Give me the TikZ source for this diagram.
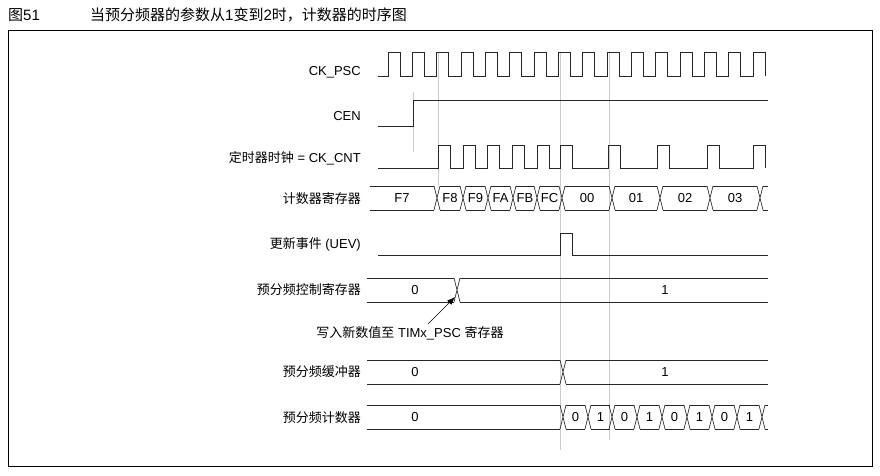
\documentclass[tikz,border=0pt]{standalone}
\usepackage{fontspec}
\usetikzlibrary{arrows.meta}
\setmainfont{Liberation Sans}
\newfontfamily\cjk{Noto Sans CJK SC}
\tikzset{lab/.style={anchor=east,inner sep=0pt,font=\fontsize{13}{15}\selectfont},
 val/.style={inner sep=0pt,font=\fontsize{13}{15}\selectfont},
 sig/.style={line width=0.7pt,black!85},
 guide/.style={gray!40,line width=0.5pt}}
\newcommand\busseg[5]{\draw[sig] (#1,#3)--(#2,#3) (#1,#4)--(#2,#4); \node[val] at ({(#1+#2)/2},{(#3+#4)/2}) {#5};}
\newcommand\buslines[4]{\draw[sig] (#1,#3)--(#2,#3) (#1,#4)--(#2,#4);}
\newcommand\busx[3]{\draw[sig] ({#1-3},#2)--({#1+3},#3) ({#1-3},#3)--({#1+3},#2);}
\begin{document}
\begin{tikzpicture}[x=1pt,y=-1pt]
\useasboundingbox (0,0) rectangle (880,476);
\draw[line width=0.6pt] (8,30) rectangle (872,466);
\node[anchor=west,inner sep=0pt,font=\fontsize{15}{17}\selectfont] (ttl) at (8,15) {\cjk 图\rmfamily 51};
\node[anchor=west,inner sep=0pt,font=\fontsize{15}{17}\selectfont] (ttl2) at (90,15) {\cjk 当预分频器的参数从\rmfamily 1\cjk 变到\rmfamily 2\cjk 时，计数器的时序图};
% guides
\draw[guide] (413,92)--(413,152);
\draw[guide] (438,52)--(438,186);
\draw[guide] (560,52)--(560,450);
\draw[guide] (609,52)--(609,440);
% labels
\node[lab] (l1) at (361,72) {CK\_PSC};
\node[lab] (l2) at (361,116) {CEN};
\node[lab] (l3) at (361,158) {\cjk 定时器时钟\rmfamily\ = CK\_CNT};
\node[lab] (l4) at (361,199) {\cjk 计数器寄存器};
\node[lab] (l5) at (361,244) {\cjk 更新事件\rmfamily\ (UEV)};
\node[lab] (l6) at (361,290) {\cjk 预分频控制寄存器};
\node[lab] (l7) at (361,372) {\cjk 预分频缓冲器};
\node[lab] (l8) at (361,418) {\cjk 预分频计数器};
% CK_PSC
\draw[sig] (378,76) \foreach \k in {0,...,15}{ -- ({388+\k*24.33},76) -- ++(0,-24) -- ++(12,0) -- ++(0,24)};
% CEN
\draw[sig] (378,126)--(413,126)--(413,100)--(768,100);
% CK_CNT
\draw[sig] (378,168) \foreach \r in {438,463,487,512,537,560,608,657,707,753}{ -- (\r,168) -- ++(0,-23) -- ++(12,0) -- ++(0,23)};
% counter register
\busseg{370}{434}{186}{210}{F7}
\foreach \t in {437,463,488,513,537,562,612,660,710,760}{\busx{\t}{186}{210}}
\busseg{440}{460}{186}{210}{F8}
\busseg{466}{485}{186}{210}{F9}
\busseg{491}{510}{186}{210}{FA}
\busseg{516}{534}{186}{210}{FB}
\busseg{540}{559}{186}{210}{FC}
\busseg{565}{609}{186}{210}{00}
\busseg{615}{657}{186}{210}{01}
\busseg{663}{707}{186}{210}{02}
\busseg{713}{757}{186}{210}{03}
\draw[sig] (763,186)--(768,186) (763,210)--(768,210);
% UEV
\draw[sig] (378,255)--(560,255)--(560,233)--(572,233)--(572,255)--(768,255);
% prescaler control
\buslines{367}{454}{278}{302}
\node[val] (pc0) at (415,290) {0};
\busx{457}{278}{302}
\buslines{460}{768}{278}{302}
\node[val] (pc1) at (665,290) {1};
\node[inner sep=0pt,font=\fontsize{13}{15}\selectfont] (note) at (410,333) {\cjk 写入新数值至\rmfamily\ TIMx\_PSC \cjk 寄存器};
\coordinate (tip) at (455,297);
\draw[-{Latex[length=8pt,width=6pt]},line width=0.6pt] (428,324)--(tip);
% buffer
\buslines{367}{560}{360}{384}
\node[val] (pb0) at (415,372) {0};
\busx{563}{360}{384}
\buslines{566}{768}{360}{384}
\node[val] (pb1) at (665,372) {1};
% prescaler counter
\buslines{367}{560}{405}{429}
\node[val] (pn0) at (415,417) {0};
\foreach \t [count=\i] in {563,588,612,637,662,687,712,737,762}{\busx{\t}{405}{429}}
\foreach \a/\v in {563/0,588/1,612/0,637/1,662/0,687/1,712/0,737/1}{\busseg{\a+3}{\a+22}{405}{429}{\v}}
\draw[sig] (765,405)--(768,405) (765,429)--(768,429);
\end{tikzpicture}
\end{document}
